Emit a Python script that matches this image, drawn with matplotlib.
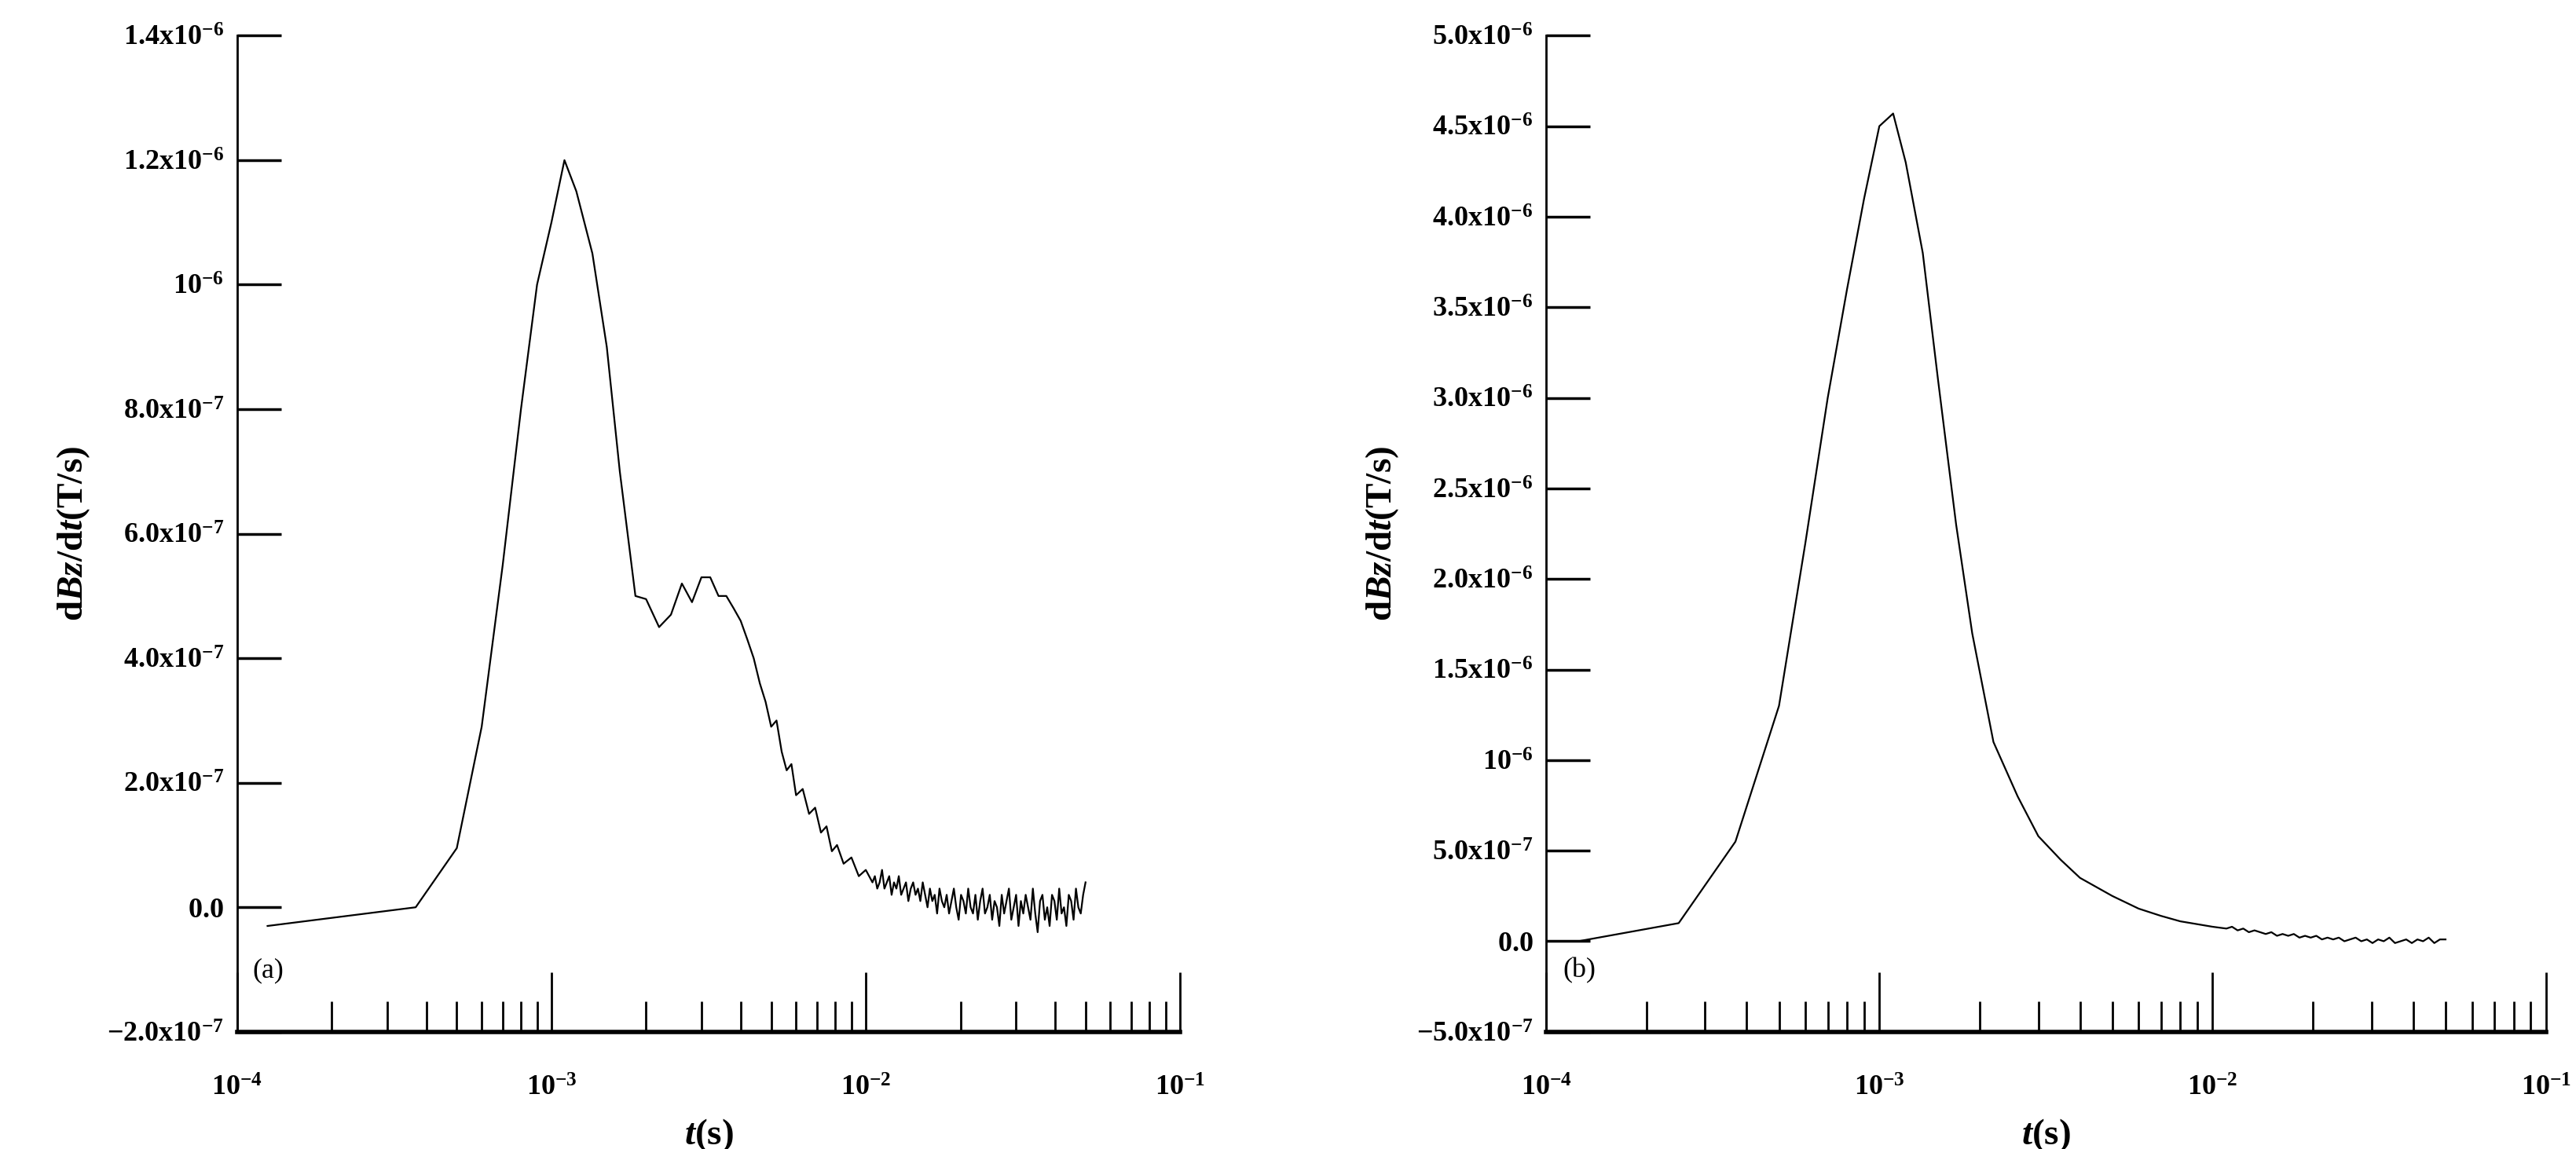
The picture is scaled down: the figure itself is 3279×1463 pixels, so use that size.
import numpy as np
import matplotlib.pyplot as plt
from matplotlib.ticker import FixedLocator, FixedFormatter, LogLocator, NullFormatter

plt.rcParams['font.family'] = ['Liberation Serif']
plt.rcParams['font.weight'] = 'bold'
plt.rcParams['mathtext.fontset'] = 'custom'
plt.rcParams['mathtext.rm'] = 'Liberation Serif:bold'
plt.rcParams['mathtext.it'] = 'Liberation Serif:italic:bold'
plt.rcParams['mathtext.bf'] = 'Liberation Serif:bold'
plt.rcParams['axes.unicode_minus'] = False

# panel (a): smooth part
t_a = [1.25e-4, 3.7e-4, 5.0e-4, 6.0e-4, 7.0e-4, 8.0e-4, 9.0e-4, 1.0e-3, 1.1e-3, 1.2e-3,
       1.35e-3, 1.5e-3, 1.65e-3, 1.85e-3, 2.0e-3, 2.2e-3, 2.4e-3, 2.6e-3, 2.8e-3, 3.0e-3,
       3.2e-3, 3.4e-3, 3.6e-3, 3.8e-3, 4.0e-3, 4.2e-3, 4.4e-3, 4.6e-3, 4.8e-3, 5.0e-3,
       5.2e-3, 5.4e-3, 5.6e-3, 5.8e-3, 6.0e-3, 6.3e-3, 6.6e-3, 6.9e-3, 7.2e-3, 7.5e-3,
       7.8e-3, 8.1e-3, 8.5e-3, 9.0e-3, 9.5e-3, 1.0e-2]
v_a = [-3e-8, 0.0, 9.5e-8, 2.9e-7, 5.5e-7, 8.0e-7, 1.0e-6, 1.1e-6, 1.2e-6, 1.15e-6,
       1.05e-6, 9.0e-7, 7.0e-7, 5.0e-7, 4.95e-7, 4.5e-7, 4.7e-7, 5.2e-7, 4.9e-7, 5.3e-7,
       5.3e-7, 5.0e-7, 5.0e-7, 4.8e-7, 4.6e-7, 4.3e-7, 4.0e-7, 3.6e-7, 3.3e-7, 2.9e-7,
       3.0e-7, 2.5e-7, 2.2e-7, 2.3e-7, 1.8e-7, 1.9e-7, 1.5e-7, 1.6e-7, 1.2e-7, 1.3e-7,
       0.9e-7, 1.0e-7, 0.7e-7, 0.8e-7, 0.5e-7, 0.6e-7]
# panel (a): noisy tail (x1e-8)
tail_a = [4, 5, 3, 4, 6, 3, 4, 5, 2, 4, 3, 5, 2, 3, 4, 1, 3, 4, 2, 3,
          1, 4, 2, 0, 3, 1, 2, -1, 3, 1, 0, 2, -1, 1, 3, 0, -2, 2, 1, -1,
          3, 0, -1, 2, -2, 1, 3, -1, 0, 2, -2, 1, 0, -3, 2, -1, 1, 3, -2, 0,
          2, -3, 1, -1, 2, 0, -2, 3, -1, -4, 1, 2, -2, 0, -3, 2, 1, -2, 3, -1,
          0, -3, 2, 1, -2, 3, 0, -1, 2, 4]
# panel (b)
t_b = [1.25e-4, 2.5e-4, 3.7e-4, 5.0e-4, 6.0e-4, 7.0e-4, 8.0e-4, 9.0e-4, 1.0e-3, 1.1e-3,
       1.2e-3, 1.35e-3, 1.5e-3, 1.7e-3, 1.9e-3, 2.2e-3, 2.6e-3, 3.0e-3, 3.5e-3, 4.0e-3,
       5.0e-3, 6.0e-3, 7.0e-3, 8.0e-3, 1.0e-2]
v_b = [0.0, 1.0e-7, 5.5e-7, 1.3e-6, 2.2e-6, 3.0e-6, 3.6e-6, 4.1e-6, 4.5e-6, 4.57e-6,
       4.3e-6, 3.8e-6, 3.1e-6, 2.3e-6, 1.7e-6, 1.1e-6, 8.0e-7, 5.8e-7, 4.5e-7, 3.5e-7,
       2.5e-7, 1.8e-7, 1.4e-7, 1.1e-7, 8.0e-8]
tail_b = [7, 8, 6, 7, 5, 6, 5, 4, 5, 3, 4, 3, 4, 2, 3, 2, 3, 1, 2, 1,
          2, 0, 1, 2, 0, 1, -1, 1, 0, 2, -1, 0, 1, -1, 1, 0, 2, -1, 1, 1]

t_a_all = t_a + list(np.geomspace(1.05e-2, 5e-2, len(tail_a)))
v_a_all = v_a + [x * 1e-8 for x in tail_a]
t_b_all = t_b + list(np.geomspace(1.1e-2, 5e-2, len(tail_b)))
v_b_all = v_b + [x * 1e-8 for x in tail_b]

yticks_a = [-2e-7, 0, 2e-7, 4e-7, 6e-7, 8e-7, 1e-6, 1.2e-6, 1.4e-6]
ylabels_a = [r'$\mathrm{-2.0x10^{-7}}$', r'$\mathrm{0.0}$', r'$\mathrm{2.0x10^{-7}}$',
             r'$\mathrm{4.0x10^{-7}}$', r'$\mathrm{6.0x10^{-7}}$', r'$\mathrm{8.0x10^{-7}}$',
             r'$\mathrm{10^{-6}}$', r'$\mathrm{1.2x10^{-6}}$', r'$\mathrm{1.4x10^{-6}}$']
yticks_b = [-5e-7, 0, 5e-7, 1e-6, 1.5e-6, 2e-6, 2.5e-6, 3e-6, 3.5e-6, 4e-6, 4.5e-6, 5e-6]
ylabels_b = [r'$\mathrm{-5.0x10^{-7}}$', r'$\mathrm{0.0}$', r'$\mathrm{5.0x10^{-7}}$',
             r'$\mathrm{10^{-6}}$', r'$\mathrm{1.5x10^{-6}}$', r'$\mathrm{2.0x10^{-6}}$',
             r'$\mathrm{2.5x10^{-6}}$', r'$\mathrm{3.0x10^{-6}}$', r'$\mathrm{3.5x10^{-6}}$',
             r'$\mathrm{4.0x10^{-6}}$', r'$\mathrm{4.5x10^{-6}}$', r'$\mathrm{5.0x10^{-6}}$']
xlabels = [r'$\mathrm{10^{-4}}$', r'$\mathrm{10^{-3}}$', r'$\mathrm{10^{-2}}$', r'$\mathrm{10^{-1}}$']

fig = plt.figure(figsize=(32.8, 14.63), dpi=100)
ax_a = fig.add_axes([0.092, 0.102, 0.366, 0.867])
ax_b = fig.add_axes([0.600, 0.102, 0.388, 0.867])

panels = [(ax_a, t_a_all, v_a_all, yticks_a, ylabels_a, '(a)'),
          (ax_b, t_b_all, v_b_all, yticks_b, ylabels_b, '(b)')]
for ax, t, v, yt, yl, tag in panels:
    ax.plot(t, v, color='black', lw=1.6)
    ax.set_xscale('log')
    ax.set_xlim(1e-4, 1e-1)
    ax.set_ylim(yt[0], yt[-1])
    ax.yaxis.set_major_locator(FixedLocator(yt))
    ax.yaxis.set_major_formatter(FixedFormatter(yl))
    ax.xaxis.set_major_locator(FixedLocator([1e-4, 1e-3, 1e-2, 1e-1]))
    ax.xaxis.set_major_formatter(FixedFormatter(xlabels))
    ax.xaxis.set_minor_locator(LogLocator(base=10, subs=np.arange(2, 10)))
    ax.xaxis.set_minor_formatter(NullFormatter())
    ax.spines['top'].set_visible(False)
    ax.spines['right'].set_visible(False)
    ax.spines['bottom'].set_linewidth(4)
    ax.spines['left'].set_linewidth(2)
    ax.tick_params(axis='y', direction='in', length=40, width=2.5, labelsize=26, pad=12)
    ax.tick_params(axis='x', which='major', direction='in', length=55, width=2, labelsize=26, pad=40)
    ax.tick_params(axis='x', which='minor', direction='in', length=28, width=2)
    ax.set_xlabel(r'$\mathit{t}$(s)', fontsize=34, fontweight='bold', labelpad=14)
    ax.set_ylabel(r'd$\mathit{Bz}$/d$\mathit{t}$(T/s)', fontsize=34, fontweight='bold', labelpad=14)
    ax.text(1.12e-4, yt[0] + 0.055 * (yt[-1] - yt[0]), tag, fontsize=26, fontweight='normal')

fig.savefig('out.png', dpi=100)
